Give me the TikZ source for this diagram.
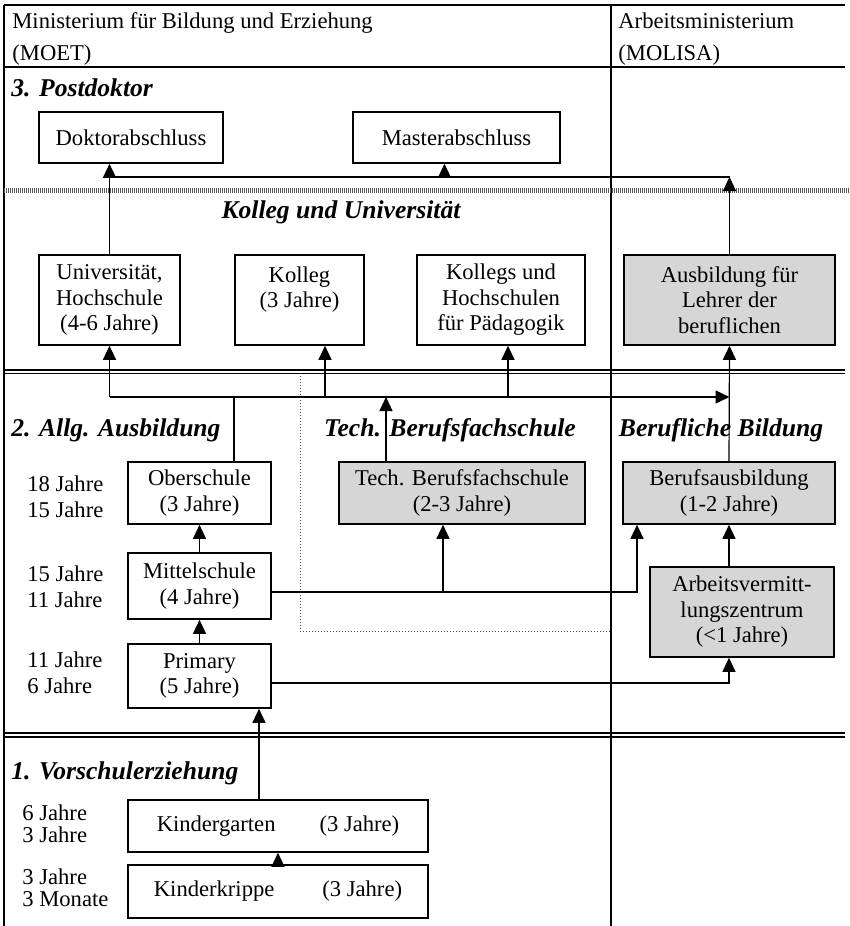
\documentclass[tikz,border=0pt]{standalone}
\usepackage{fontspec}
\setmainfont{Liberation Serif}
\usetikzlibrary{arrows.meta}

\begin{document}
\begin{tikzpicture}[x=0.5pt,y=-0.5pt,
  font=\fontsize{11.3}{12.75}\selectfont,
  box/.style={draw,line width=0.8pt,align=center,inner sep=0pt},
  graybox/.style={box,fill=black!16},
  head/.style={font=\fontsize{12.8}{14}\selectfont\bfseries\itshape,inner sep=0pt},
  age/.style={anchor=west,align=left,inner sep=0pt},
  arr/.style={-{Triangle[length=7pt,width=6.5pt]},line width=0.6pt},
  conn/.style={line width=0.6pt},
  rule/.style={line width=0.6pt},
  dline/.style={line width=0.9pt}]
\useasboundingbox (0,0) rectangle (850,926);

\draw[rule] (4,5) -- (845,5);
\draw[rule] (4,67) -- (845,67);
\draw[rule] (4,5) -- (4,926);
\draw[rule] (611,5) -- (611,926);
\draw[line width=2.6pt,black!65,dash pattern=on 0.5pt off 0.5pt] (4,190.5) -- (850,190.5);
\foreach \y in {370,373.5,733,737}
  \draw[dline] (4,\y) -- (845,\y);
\draw[densely dotted,black!70,line width=0.5pt] (300,373) -- (300,631) -- (611,631);

\node[age] (moet) at (12,39) {Ministerium für Bildung und Erziehung\\[3pt](MOET)};
\node[age] (molisa) at (618,39) {Arbeitsministerium\\[3pt](MOLISA)};

\node[head,anchor=west] (post) at (11,88) {3. Postdoktor};
\node[head] (kolluni) at (341,212) {Kolleg und Universität};
\node[head,anchor=west] (allg) at (11,430) {2. Allg. Ausbildung};
\node[head] (techhd) at (450,430) {Tech. Berufsfachschule};
\node[head] (berhd) at (721,430) {Berufliche Bildung};
\node[head,anchor=west] (vor) at (11,773) {1. Vorschulerziehung};

\node[box,minimum width=92pt,minimum height=25.5pt] (dok) at (131,137.5) {Doktorabschluss};
\node[box,minimum width=103.5pt,minimum height=25.5pt] (mas) at (456.5,137.5) {Masterabschluss};
\node[box,minimum width=70.5pt,minimum height=45pt] (uni) at (109.5,300) {Universität,\\Hochschule\\(4-6 Jahre)};
\node[box,minimum width=64.5pt,minimum height=45pt] (kol) at (299.5,300) {Kolleg\\(3 Jahre)\\\phantom{J}};
\node[box,minimum width=84pt,minimum height=45pt] (pad) at (501,300) {Kollegs und\\Hochschulen\\für Pädagogik};
\node[graybox,minimum width=105.5pt,minimum height=45pt] (leh) at (729.5,300) {Ausbildung für\\Lehrer der\\beruflichen};
\node[box,minimum width=71.5pt,minimum height=31pt] (obe) at (199.5,493) {Oberschule\\(3 Jahre)};
\node[graybox,minimum width=123pt,minimum height=31pt] (tbf) at (462,493) {Tech. Berufsfachschule\\(2-3 Jahre)};
\node[graybox,minimum width=106pt,minimum height=31pt] (bau) at (729,493) {Berufsausbildung\\(1-2 Jahre)};
\node[box,minimum width=71.5pt,minimum height=33pt] (mit) at (199.5,586) {Mittelschule\\(4 Jahre)};
\node[graybox,minimum width=92pt,minimum height=45pt] (avz) at (742,612) {Arbeitsvermitt-\\lungszentrum\\(<1 Jahre)};
\node[box,minimum width=71.5pt,minimum height=32pt] (pri) at (199.5,676) {Primary\\(5 Jahre)};
\node[box,minimum width=150pt,minimum height=26pt] (kig) at (278,826) {Kindergarten\hspace{22pt}(3 Jahre)};
\node[box,minimum width=150pt,minimum height=26.5pt] (kik) at (278,891.5) {Kinderkrippe\hspace{24pt}(3 Jahre)};

\node[age] (a18) at (27,497) {18 Jahre\\15 Jahre};
\node[age] (a15) at (27,587) {15 Jahre\\11 Jahre};
\node[age] (a11) at (27,673) {11 Jahre\\6 Jahre};
\node[age,font=\fontsize{11.3}{11}\selectfont] (a6) at (22,824) {6 Jahre\\3 Jahre};
\node[age,font=\fontsize{11.3}{11}\selectfont] (a3) at (22,888) {3 Jahre\\3 Monate};

\coordinate (topbus) at (0,177);
\coordinate (midbus) at (0,397);
\coordinate (masin) at ([xshift=-6pt]mas.south);
\coordinate (kolin) at ([xshift=12.75pt]kol.south);
\coordinate (padin) at ([xshift=3.5pt]pad.south);
\coordinate (obeout) at ([xshift=17.25pt]obe.north);
\coordinate (tbfout) at ([xshift=-38pt]tbf.north);
\coordinate (tbfin) at ([xshift=-9.5pt]tbf.south);
\coordinate (bauin) at ([xshift=-46pt]bau.south);
\coordinate (mitout) at ([yshift=-3pt]mit.east);
\coordinate (priout) at ([yshift=-3.5pt]pri.east);
\coordinate (kigout) at ([xshift=-9.5pt]kig.north);

\draw[arr] (uni.north) -- (uni.north |- dok.south);
\draw[conn] (uni.north |- topbus) -- (leh.north |- topbus);
\draw[arr] (masin |- topbus) -- (masin);
\draw[arr] (leh.north) -- (leh.north |- topbus);

\draw[arr] (uni.south |- midbus) -- (uni.south);
\draw[arr] (kolin |- midbus) -- (kolin);
\draw[arr] (padin |- midbus) -- (padin);
\draw[arr] (uni.south |- midbus) -- (leh.south |- midbus);
\draw[arr] (bau.north) -- (leh.south);
\draw[conn] (obeout) -- (obeout |- midbus);
\draw[arr] (tbfout) -- (tbfout |- midbus);

\draw[arr] (mit.north) -- (obe.south);
\draw[conn] (mitout) -- (tbfin |- mitout);
\draw[arr] (tbfin |- mitout) -- (tbfin);
\draw[arr] (mitout) -| (bauin);
\draw[arr] (pri.north) -- (mit.south);
\draw[arr] (priout) -| (bau.south |- avz.south);
\draw[arr] (bau.south |- avz.north) -- (bau.south);
\draw[arr] (kigout) -- (kigout |- pri.south);
\draw[arr] (kik.north) -- (kig.south);
\end{tikzpicture}
\end{document}
